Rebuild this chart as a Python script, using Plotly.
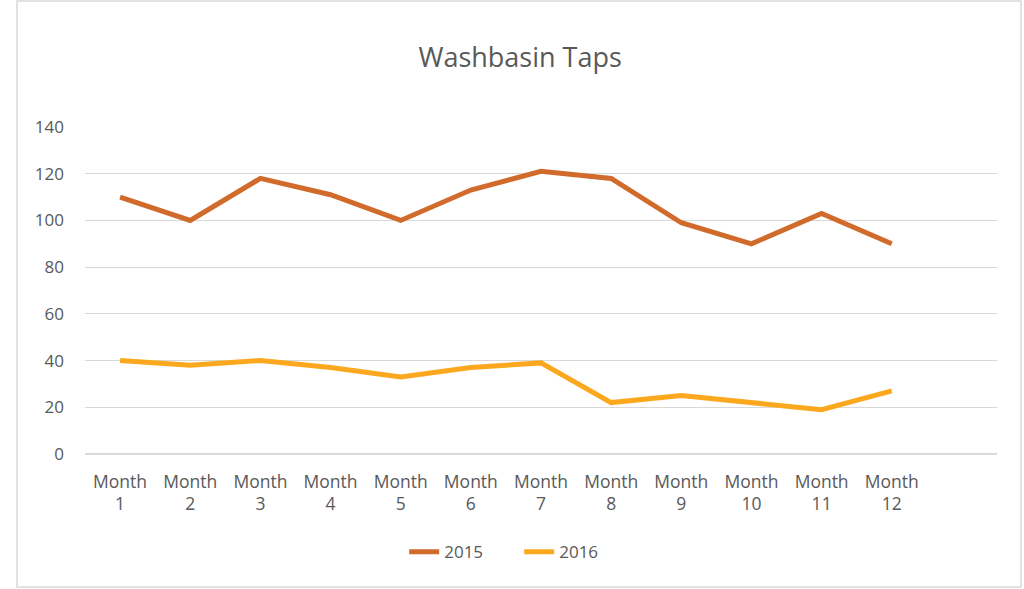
import plotly.graph_objects as go

months = ["Month<br>%d" % i for i in range(1, 13)]
sales_2015 = [110, 100, 118, 111, 100, 113, 121, 118, 99, 90, 103, 90]
sales_2016 = [40, 38, 40, 37, 33, 37, 39, 22, 25, 22, 19, 27]
y_ticks = [0, 20, 40, 60, 80, 100, 120, 140]

fig = go.Figure()
fig.add_trace(go.Scatter(x=months, y=sales_2015, mode='lines', name='2015',
                         line=dict(color='#D06B2C', width=5)))
fig.add_trace(go.Scatter(x=months, y=sales_2016, mode='lines', name='2016',
                         line=dict(color='#FCA81E', width=5)))

font = dict(family='Open Sans, Liberation Sans, sans-serif', color='#595959')

# plot area: x 85..997, y 127..454 (px)
fig.update_layout(
    width=1024, height=589,
    paper_bgcolor='white', plot_bgcolor='white',
    margin=dict(l=85, r=27, t=127, b=135),
    title=dict(text='Washbasin Taps', x=0.508, xanchor='center', y=0.902, yanchor='middle',
               font=dict(size=27, **font)),
    font=dict(size=17, **font),
    xaxis=dict(range=[-0.5, 12.5], showgrid=False, showline=False, zeroline=False,
               ticks='', ticklabelstandoff=15, tickfont=dict(size=17.5, **font)),
    yaxis=dict(range=[0, 140], tickvals=y_ticks, showgrid=True, gridcolor='#D9D9D9',
               gridwidth=1, zeroline=True, zerolinecolor='#D9D9D9', showline=False,
               ticks='', ticklabelstandoff=20, tickfont=dict(size=17, **font)),
    legend=dict(orientation='h', x=0.35, xanchor='left', y=-0.3, yanchor='middle',
                entrywidth=70, entrywidthmode='pixels',
                font=dict(size=17, **font)),
    shapes=[dict(type='rect', xref='paper', yref='paper',
                 x0=-68 / 912, x1=936 / 912, y0=-133 / 327, y1=453 / 327,
                 line=dict(color='#D9D9D9', width=1.5))],
)

fig.write_html("out.html", config={'displayModeBar': False},
               post_script="document.body.style.margin='0';")
